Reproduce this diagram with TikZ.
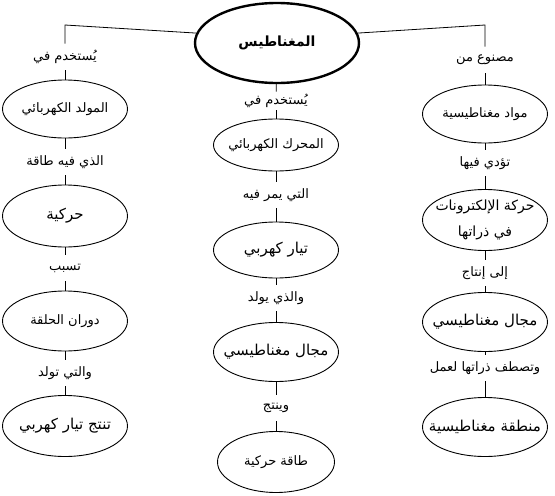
\documentclass[tikz,border=0pt]{standalone}
\usepackage{fontspec}
\usepackage{tikz}
\usetikzlibrary{shapes.geometric}
\newfontfamily\arabicfont[Script=Arabic]{DejaVu Sans}
\TeXXeTstate=1
\newcommand{\rl}[1]{\beginR#1\endR}

\begin{document}
\begin{tikzpicture}[x=1pt, y=-1pt, line width=.8pt,
		bubble/.style={draw, ellipse, line width=.9pt, minimum width=125pt, minimum height=58pt, inner xsep=-16pt, inner ysep=0pt, font=\arabicfont\fontsize{13}{15}\selectfont},
		bigbubble/.style={bubble, font=\arabicfont\fontsize{15}{17}\selectfont},
		linktext/.style={inner sep=2pt, minimum height=26pt, font=\arabicfont\fontsize{13}{15}\selectfont}]
				\useasboundingbox (0,0) rectangle (555,496);
				\node[bubble, line width=2.4pt, minimum width=164pt, minimum height=80pt, font=\arabicfont\bfseries\fontsize{14}{16}\selectfont] (magnet) at (277,43) {\rl{المغناطيس}};
				\coordinate (lcorner) at (65,25);
				\coordinate (rcorner) at (485,25);
				\node[linktext] (usedL) at (65,57) {\rl{يُستخدم في}};
				\node[bubble] (gen) at (65,109) {\rl{المولد الكهربائي}};
				\node[linktext] (hasenergy) at (65,162) {\rl{الذي فيه طاقة}};
				\node[bigbubble, minimum height=62pt] (kinetic) at (65,216) {\rl{حركية}};
				\node[linktext] (causes) at (65,268) {\rl{تسبب}};
				\node[bubble, minimum height=60pt] (rotation) at (65,321) {\rl{دوران الحلقة}};
				\node[linktext] (generates) at (65,373) {\rl{والتي تولد}};
				\node[bigbubble, minimum height=61pt] (current) at (65,426) {\rl{تنتج تيار كهربي}};
				\node[linktext, minimum height=18pt] (usedM) at (276,101) {\rl{يُستخدم في}};
				\node[bubble, minimum height=52pt] (motor) at (276,145) {\rl{المحرك الكهربائي}};
				\node[linktext] (passes) at (276,195) {\rl{التي يمر فيه}};
				\node[bigbubble, minimum height=56pt] (flow) at (276,250) {\rl{تيار كهربي}};
				\node[linktext] (produces) at (276,298) {\rl{والذي يولد}};
				\node[bigbubble, minimum height=59pt] (field) at (276,352) {\rl{مجال مغناطيسي}};
				\node[linktext] (yields) at (276,408) {\rl{وينتج}};
				\node[bubble, minimum width=117pt, minimum height=61pt] (energy) at (276,462) {\rl{طاقة حركية}};
				\node[linktext] (madeof) at (485,60) {\rl{مصنوع من}};
				\node[bubble] (material) at (485,114) {\rl{مواد مغناطيسية}};
				\node[linktext] (leadsin) at (485,163) {\rl{تؤدي فيها}};
				\node[bubble, font=\arabicfont\fontsize{14}{26}\selectfont, minimum height=61pt, align=center] (electrons) at (485,220) {\rl{حركة الإلكترونات}\\\rl{في ذراتها}};
				\node[linktext] (toproduce) at (485,273) {\rl{إلى إنتاج}};
				\node[bigbubble, minimum height=59pt] (mfield) at (485,322) {\rl{مجال مغناطيسي}};
				\node[linktext] (alignfor) at (485,368) {\rl{وتصطف ذراتها لعمل}};
				\node[bigbubble, minimum height=59pt] (domain) at (485,427) {\rl{منطقة مغناطيسية}};
				\draw (magnet.173) -- (lcorner) -- (usedL);
				\draw (magnet.7) -- (rcorner) -- (madeof);
				\foreach \a/\b in {usedL/gen, gen/hasenergy, hasenergy/kinetic, kinetic/causes, causes/rotation, rotation/generates, generates/current,
					magnet/usedM, usedM/motor, motor/passes, passes/flow, flow/produces, produces/field, field/yields, yields/energy,
					madeof/material, material/leadsin, leadsin/electrons, electrons/toproduce, toproduce/mfield, mfield/alignfor, alignfor/domain} {
					\draw (\a) -- (\b);
				}
			\end{tikzpicture}
\end{document}
